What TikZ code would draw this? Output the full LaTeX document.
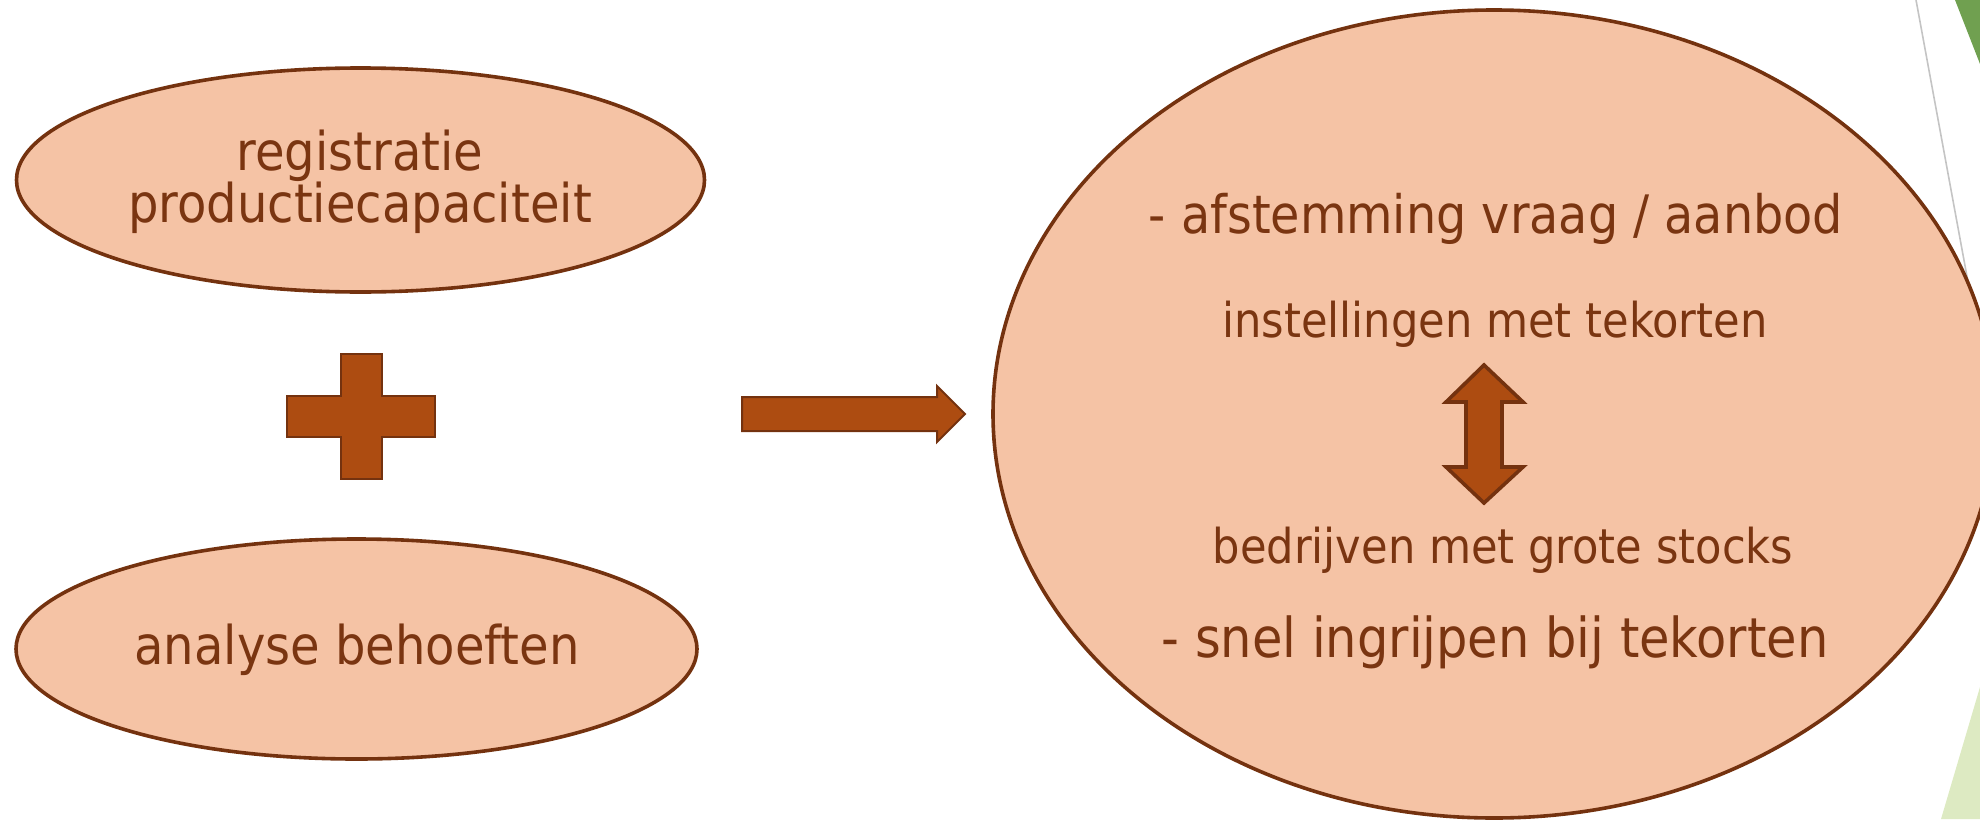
\documentclass[tikz,border=0pt]{standalone}
\usepackage{fontspec}
\setmainfont{DejaVu Sans Condensed}
\usetikzlibrary{shapes.geometric}
\definecolor{peach}{HTML}{F5C3A5}
\definecolor{brownline}{HTML}{74320F}
\definecolor{browntext}{HTML}{7A3511}
\definecolor{rust}{HTML}{AD4C11}
\definecolor{darkgreen}{HTML}{70A050}
\definecolor{lightgreen}{HTML}{DDEAC2}
\definecolor{grayline}{HTML}{C4C4C4}
\begin{document}
\begin{tikzpicture}[x=0.5pt,y=-0.5pt,
  blob/.style={ellipse, draw=brownline, fill=peach, line width=1.8pt, inner sep=0pt},
  lbl/.style={text=browntext, anchor=base, inner sep=0pt},
  lefttxt/.style={lbl, font=\fontsize{26.7pt}{32pt}\selectfont},
  bigtxt/.style={lbl, font=\fontsize{26.8pt}{32pt}\selectfont},
  smalltxt/.style={lbl, font=\fontsize{24pt}{29pt}\selectfont},
  block/.style={draw=brownline, fill=rust, line width=1pt, line join=miter}]
\useasboundingbox (0,0) rectangle (1980,819);
\begin{scope}
\clip (0,0) rectangle (1980,819);
\fill[darkgreen] (1955,0) -- (1980,0) -- (1980,64) -- cycle;
\fill[lightgreen] (1980,687) -- (1980,819) -- (1941,819) -- cycle;
\draw[grayline, line width=0.8pt] (1916,0) -- (1975,320);
\node[blob, minimum width=344pt, minimum height=112pt] (regE) at (360.5,180) {};
\node[blob, minimum width=340.5pt, minimum height=110pt] (anaE) at (356.5,649) {};
\node[blob, minimum width=501pt, minimum height=404pt] (bigE) at (1494,414) {};
\end{scope}
\node[lefttxt] (t1) at (360,170) {registratie};
\node[lefttxt] (t2) at (360,222) {productiecapaciteit};
\node[lefttxt] (t3) at (357,664) {analyse behoeften};
\node[bigtxt, font=\fontsize{26.5pt}{32pt}\selectfont] (r1) at (1496,233) {- afstemming vraag / aanbod};
\node[smalltxt] (r2) at (1495,337) {instellingen met tekorten};
\node[smalltxt] (r3) at (1503,563) {bedrijven met grote stocks};
\node[bigtxt, font=\fontsize{27.5pt}{33pt}\selectfont] (r4) at (1495,657) {- snel ingrijpen bij tekorten};
\draw[block] (341,354) -- (382,354) -- (382,396) -- (435,396) -- (435,437) -- (382,437) -- (382,479) -- (341,479) -- (341,437) -- (287,437) -- (287,396) -- (341,396) -- cycle;
\draw[block] (742,397) -- (937,397) -- (937,386) -- (965,414) -- (937,442) -- (937,431) -- (742,431) -- cycle;
\draw[block, line width=1.8pt] (1484,365) -- (1523,402) -- (1502,402) -- (1502,467) -- (1523,467) -- (1484,503) -- (1446,467) -- (1466,467) -- (1466,402) -- (1446,402) -- cycle;
\end{tikzpicture}
\end{document}
